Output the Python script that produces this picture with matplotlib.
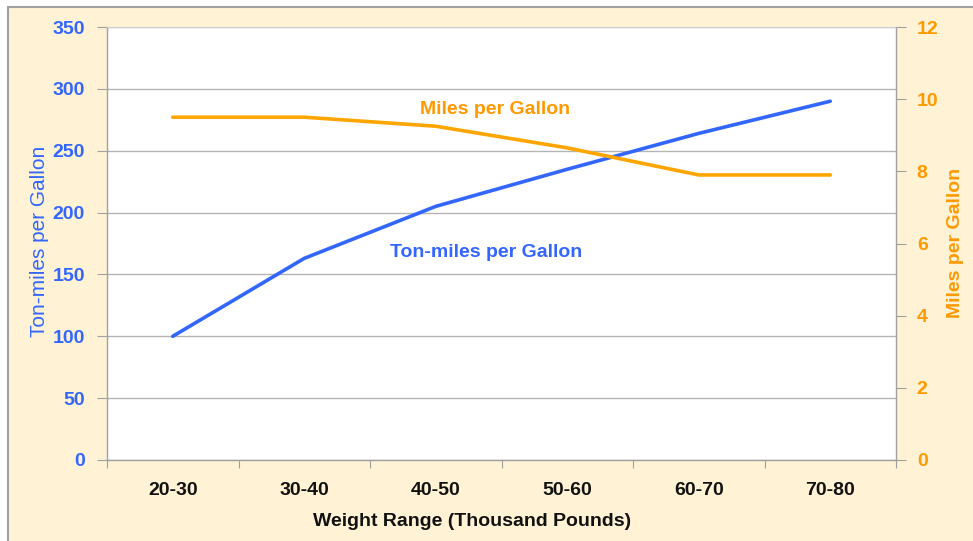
import matplotlib
matplotlib.use("Agg")
import matplotlib.pyplot as plt
from matplotlib.patches import Rectangle

categories = ["20-30", "30-40", "40-50", "50-60", "60-70", "70-80"]
ton_miles = [100, 163, 205, 235, 264, 290]
mpg = [9.5, 9.5, 9.25, 8.65, 7.9, 7.9]
left_ticks = [0, 50, 100, 150, 200, 250, 300, 350]
right_ticks = [0, 2, 4, 6, 8, 10, 12]

BLUE = "#3366FF"
ORANGE = "#FFA500"
ORANGE_TXT = "#FF9900"
CREAM = "#FFF2D5"
GRID = "#B4B4B4"

plt.rcParams['font.family'] = ['Liberation Sans', 'DejaVu Sans']

W, H = 973, 541
fig = plt.figure(figsize=(W / 100, H / 100), dpi=100)
fig.patch.set_facecolor("white")
fig.patches.append(Rectangle((8 / W, -0.05), 1.2, (H - 7) / H + 0.05,
                             transform=fig.transFigure, facecolor=CREAM,
                             edgecolor="#A0A0A0", linewidth=1.5, zorder=-10))

ax = fig.add_axes([107 / W, 1 - 460 / H, (896 - 107) / W, (460 - 27) / H])
ax.set_facecolor("white")
x = list(range(len(categories)))
ax.plot(x, ton_miles, color=BLUE, lw=2.6, solid_capstyle="round", zorder=3)
ax.set_xlim(-0.5, len(categories) - 0.5)
ax.set_ylim(0, 350)
ax.set_yticks(left_ticks)
ax.set_xticks([i - 0.5 for i in range(len(categories) + 1)], minor=False)
ax.set_xticklabels([])
ax.set_xticks(x, minor=True)
ax.set_xticklabels(categories, minor=True, fontsize=14, fontweight="bold", color="#111111")
ax.tick_params(axis="x", which="minor", length=0, pad=16)
ax.tick_params(axis="x", which="major", length=6, color="#A0A0A0", direction="out")
ax.tick_params(axis="y", length=7, color="#A0A0A0", pad=9, labelsize=14, labelcolor=BLUE)
for lab in ax.get_yticklabels():
    lab.set_fontweight("bold")
ax.grid(axis="y", color=GRID, lw=1)
ax.set_axisbelow(True)
for s in ["left", "bottom", "right"]:
    ax.spines[s].set_color("#A0A0A0")
    ax.spines[s].set_linewidth(1)
ax.spines["top"].set_color("#D0D0D0")
ax.set_xlabel("Weight Range (Thousand Pounds)", fontsize=14, fontweight="bold", color="#111111",
              va="center")
ax.xaxis.set_label_coords(0.4626, -0.141)
ax.set_ylabel("Ton-miles per Gallon", fontsize=15, color=BLUE, va="center")
ax.yaxis.set_label_coords(-0.0855, 0.505)

ax2 = ax.twinx()
ax2.plot(x, mpg, color=ORANGE, lw=2.6, solid_capstyle="round", zorder=3)
ax2.set_ylim(0, 12)
ax2.set_yticks(right_ticks)
ax2.tick_params(axis="y", length=7, color="#A0A0A0", pad=8, labelsize=14, labelcolor=ORANGE_TXT)
for lab in ax2.get_yticklabels():
    lab.set_fontweight("bold")
for s in ax2.spines.values():
    s.set_visible(False)
ax2.set_ylabel("Miles per Gallon", fontsize=14, fontweight="bold", color=ORANGE_TXT, va="center")
ax2.yaxis.set_label_coords(1.075, 0.501)

ax.text(2.45, 283, "Miles per Gallon", fontsize=14, fontweight="bold",
        color=ORANGE_TXT, ha="center", va="center")
ax.text(2.38, 168, "Ton-miles per Gallon", fontsize=14, fontweight="bold",
        color=BLUE, ha="center", va="center")

fig.savefig("out.png", dpi=100, facecolor=fig.get_facecolor())
